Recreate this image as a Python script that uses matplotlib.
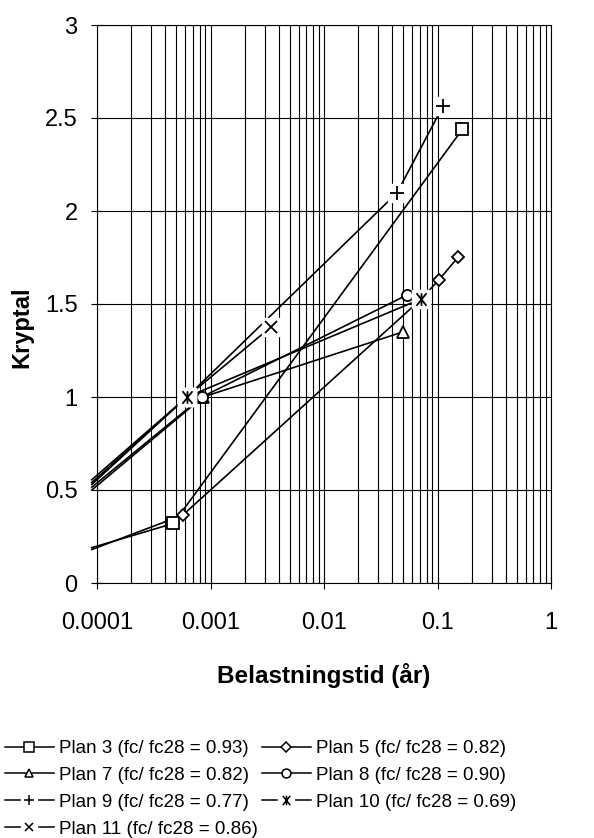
import numpy as np
import matplotlib
matplotlib.use("Agg")
import matplotlib.pyplot as plt
from matplotlib.path import Path
from matplotlib.lines import Line2D
from matplotlib.legend_handler import HandlerTuple
from matplotlib.ticker import LogLocator, FuncFormatter, MultipleLocator, NullFormatter

plt.rcParams['font.family'] = ['Liberation Sans', 'DejaVu Sans']

# Belastningstid (år) och kryptal; första punkten är linjens start vid vänsterkanten (ingen markör)
plan3_t = [0.00009, 0.00047, 0.166]
plan3_k = [0.19, 0.32, 2.44]
plan5_t = [0.00009, 0.00057, 0.07, 0.103, 0.151]
plan5_k = [0.18, 0.365, 1.52, 1.63, 1.75]
plan7_t = [0.00009, 0.00086, 0.0497]
plan7_k = [0.50, 1.0, 1.35]
plan8_t = [0.00009, 0.00084, 0.0537]
plan8_k = [0.515, 1.0, 1.548]
plan9_t = [0.00009, 0.00062, 0.0439, 0.112]
plan9_k = [0.555, 1.0, 2.097, 2.565]
plan10_t = [0.00009, 0.00062, 0.0716]
plan10_k = [0.53, 1.0, 1.527]
plan11_t = [0.00009, 0.00062, 0.0034]
plan11_k = [0.54, 1.0, 1.376]

labels = ["Plan 3 (fc/ fc28 = 0.93)", "Plan 5 (fc/ fc28 = 0.82)",
          "Plan 7 (fc/ fc28 = 0.82)", "Plan 8 (fc/ fc28 = 0.90)",
          "Plan 9 (fc/ fc28 = 0.77)", "Plan 10 (fc/ fc28 = 0.69)",
          "Plan 11 (fc/ fc28 = 0.86)"]

series = [(plan3_t, plan3_k), (plan5_t, plan5_k), (plan7_t, plan7_k),
          (plan8_t, plan8_k), (plan9_t, plan9_k), (plan10_t, plan10_k),
          (plan11_t, plan11_k)]

# asterisk like Excel: an x with a vertical bar
star = Path([(-0.8, -1), (0.8, 1), (-0.8, 1), (0.8, -1), (0, -1), (0, 1)],
            [Path.MOVETO, Path.LINETO, Path.MOVETO, Path.LINETO, Path.MOVETO, Path.LINETO])

# marker, size, white box behind, zorder
styles = [('s', 8.5, False, 4.0), ('D', 6, False, 4.1), ('^', 8, False, 4.2),
          ('o', 8, False, 4.3), ('+', 10, True, 4.4), (star, 9, True, 4.9),
          ('x', 8, True, 4.6)]

fig = plt.figure(figsize=(5.94, 8.38), dpi=100)
ax = fig.add_axes([97 / 594, 1 - 583 / 838, 454 / 594, 558 / 838])

handles = []
for (t, k), (m, ms, box, z) in zip(series, styles):
    ax.plot(t, k, color='k', lw=1.2, clip_on=False, zorder=2)
    if box:
        ax.plot(t[1:], k[1:], ls='none', marker='s', ms=13, mfc='white', mec='white', zorder=z - 0.01)
    ax.plot(t[1:], k[1:], ls='none', marker=m, ms=ms, mfc='white', mec='k', mew=1.3, zorder=z)
    # legend proxy
    if box:
        h = (Line2D([], [], color='k', lw=1.1, marker='s', ms=12, mfc='white', mec='white'),
             Line2D([], [], ls='none', marker=m, ms=ms * 0.75, mfc='white', mec='k', mew=1.1))
    else:
        h = Line2D([], [], color='k', lw=1.1, marker=m, ms=ms * 0.8, mfc='white', mec='k', mew=1.1)
    handles.append(h)

ax.set_xscale('log')
ax.set_xlim(1e-4, 1)
ax.set_ylim(0, 3)
ax.xaxis.set_major_locator(LogLocator(base=10, numticks=10))
ax.xaxis.set_minor_locator(LogLocator(base=10, subs=np.arange(2, 10), numticks=10))
ax.xaxis.set_major_formatter(FuncFormatter(lambda v, p: f"{v:g}"))
ax.xaxis.set_minor_formatter(NullFormatter())
ax.yaxis.set_major_locator(MultipleLocator(0.5))
ax.yaxis.set_major_formatter(FuncFormatter(lambda v, p: f"{v:g}"))

ax.grid(True, which='both', axis='x', color='k', lw=0.8)
ax.grid(True, which='major', axis='y', color='k', lw=0.8)
ax.set_axisbelow(True)
for s in ax.spines.values():
    s.set_linewidth(0.8)

ax.tick_params(which='major', direction='inout', length=8, width=0.8, labelsize=17)
ax.tick_params(axis='x', which='major', pad=17)
ax.tick_params(axis='y', which='major', pad=10)
ax.tick_params(axis='x', which='minor', direction='in', length=5, width=0.8)

ax.set_xlabel("Belastningstid (år)", fontsize=17.5, fontweight='bold', labelpad=21)
ax.set_ylabel("Kryptal", fontsize=17, fontweight='bold')
ax.yaxis.set_label_coords(-0.141, 0.459)

# row-wise order like the original legend
order = [0, 2, 4, 6, 1, 3, 5]
fig.legend([handles[i] for i in order], [labels[i] for i in order],
           handler_map={tuple: HandlerTuple(ndivide=1, pad=0)},
           loc='upper left', bbox_to_anchor=(5 / 594, 1 - 740 / 838),
           ncol=2, frameon=False, fontsize=13.5, handlelength=2.6,
           handletextpad=0.3, columnspacing=0.2, labelspacing=0.52,
           borderpad=0, borderaxespad=0)

fig.savefig("out.png", dpi=100)
